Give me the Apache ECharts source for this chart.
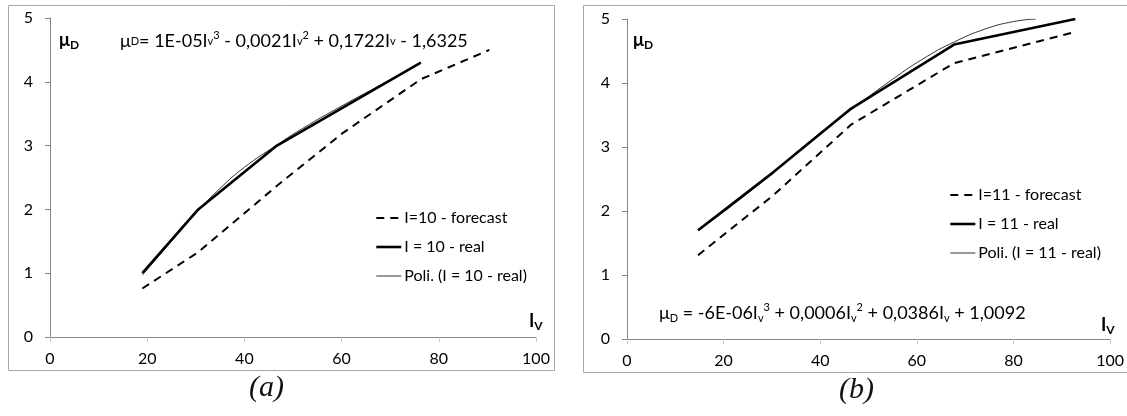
<!DOCTYPE html>
<html lang="en">
<head>
    <meta charset="UTF-8">
    <title>μD vs Iv</title>
    <script src="https://cdn.jsdelivr.net/npm/echarts@6/dist/echarts.min.js"></script>
    <style>
        html, body { margin: 0; padding: 0; background: #fff; }
        #main { width: 1127px; height: 416px; }
    </style>
</head>
<body>
<div id="main"></div>
<script>
  // ticks
  var xTicks = [0, 20, 40, 60, 80, 100];
  var yTicks = [0, 1, 2, 3, 4, 5];

  // (a) I = 10
  var namesA = ['I=10 - forecast', 'I = 10 - real', 'Poli. (I = 10 - real)'];
  var forecastA = [[19, 0.76], [30.5, 1.33], [46.7, 2.37], [60.3, 3.2], [76.3, 4.04], [90.4, 4.5]];
  var realA = [[19, 1.0], [30.5, 2.0], [46.7, 3.0], [76.3, 4.3]];
  var polyA = [[19, 0.97], [25, 1.5], [30.5, 1.98], [35, 2.33], [40, 2.66], [46.7, 3.01], [52, 3.27], [60, 3.62], [68, 3.95], [76.3, 4.3]];

  // (b) I = 11
  var namesB = ['I=11 - forecast', 'I = 11 - real', 'Poli. (I = 11 - real)'];
  var forecastB = [[14.7, 1.31], [30.2, 2.24], [46.4, 3.35], [67.7, 4.31], [92.3, 4.79]];
  var realB = [[14.7, 1.7], [30.2, 2.6], [46.4, 3.6], [67.7, 4.6], [92.8, 5.0]];
  var polyB = [[14.7, 1.69], [22, 2.1], [30.2, 2.6], [38, 3.1], [46.4, 3.58], [55, 4.06], [62, 4.41], [67.7, 4.64], [74, 4.84], [80, 4.96], [84.6, 5.0]];

  var FONT = 'Lato';
  var AXIS_COLOR = '#868686';
  // line looks: forecast, real, polynomial trend
  var STYLES = [
    {color: '#000', width: 2, type: [8, 6]},
    {color: '#000', width: 2.6, type: 'solid'},
    {color: '#000', width: 0.8, type: 'solid'}
  ];

  function xAx(idx) {
    return {
      gridIndex: idx, type: 'value', min: xTicks[0], max: xTicks[xTicks.length - 1], interval: 20,
      axisLine: {lineStyle: {color: AXIS_COLOR, width: 1}},
      axisTick: {show: true, inside: false, length: 5, lineStyle: {color: '#c8c8c8'}},
      axisLabel: {margin: 14, fontFamily: FONT, fontSize: 16, color: '#000'},
      splitLine: {show: false}
    };
  }
  function yAx(idx) {
    return {
      gridIndex: idx, type: 'value', min: yTicks[0], max: yTicks[yTicks.length - 1], interval: 1,
      axisLine: {show: true, lineStyle: {color: AXIS_COLOR, width: 1}},
      axisTick: {show: true, inside: false, length: 5, lineStyle: {color: AXIS_COLOR}},
      axisLabel: {margin: 17, fontFamily: FONT, fontSize: 16, color: '#000'},
      splitLine: {show: false}
    };
  }
  // itemStyle opacity 0 hides the circle that line legends add
  function lines(names, fc, real, poly, idx) {
    return [fc, real, poly].map(function(d, i) {
      return {
        name: names[i], type: 'line', xAxisIndex: idx, yAxisIndex: idx, data: d, symbol: 'none', color: '#000',
        smooth: i === 2, itemStyle: {opacity: 0}, lineStyle: STYLES[i], z: 3 + i
      };
    });
  }
  function legendAt(names, left, top) {
    return {
      data: names.map(function(n, i) { return {name: n, lineStyle: STYLES[i]}; }),
      orient: 'vertical', left: left, top: top, itemWidth: 25, itemHeight: 12, itemGap: 13,
      selectedMode: false,
      itemStyle: {opacity: 0},
      textStyle: {fontFamily: FONT, fontSize: 16, color: '#000', padding: [0, 0, 0, -2]}
    };
  }

  var eqRich = {
    n: {fontFamily: FONT, fontSize: 18, color: '#000', lineHeight: 22, verticalAlign: 'middle'},
    s: {fontFamily: FONT, fontSize: 11, color: '#000', lineHeight: 22, verticalAlign: 'middle'},
    sub: {fontFamily: FONT, fontSize: 11, color: '#000', lineHeight: 22, verticalAlign: 'bottom'},
    sup: {fontFamily: FONT, fontSize: 11, color: '#000', lineHeight: 22, verticalAlign: 'top'},
    b: {fontFamily: FONT, fontSize: 18, fontWeight: 'bold', color: '#000', lineHeight: 22, verticalAlign: 'middle'},
    bs: {fontFamily: FONT, fontSize: 12, fontWeight: 'bold', color: '#000', lineHeight: 22, verticalAlign: 'bottom'}
  };

  var chart = echarts.init(document.getElementById('main'), null, {renderer: 'canvas'});
  chart.setOption({
    animation: false,
    backgroundColor: '#fff',
    grid: [
      {left: 50, top: 18, width: 486, height: 319},
      {left: 627, top: 19, width: 486, height: 320}
    ],
    xAxis: [xAx(0), xAx(1)],
    yAxis: [yAx(0), yAx(1)],
    legend: [legendAt(namesA, 370, 205), legendAt(namesB, 944, 182)],
    series: lines(namesA, forecastA, realA, polyA, 0).concat(lines(namesB, forecastB, realB, polyB, 1)),
    graphic: [
      {type: 'rect', shape: {x: 8.5, y: 5.5, width: 546, height: 365}, style: {fill: 'none', stroke: '#a6a6a6', lineWidth: 1}, silent: true},
      {type: 'rect', shape: {x: 583.5, y: 5.5, width: 560, height: 367}, style: {fill: 'none', stroke: '#a6a6a6', lineWidth: 1}, silent: true},
      // axis titles
      {type: 'text', left: 59, top: 31, style: {text: '{b|μ}{bs|D}', rich: eqRich}},
      {type: 'text', left: 633, top: 31, style: {text: '{b|μ}{bs|D}', rich: eqRich}},
      {type: 'text', left: 529, top: 312, style: {text: '{b|I}{bs|V}', rich: eqRich}},
      {type: 'text', left: 1101, top: 316, style: {text: '{b|I}{bs|V}', rich: eqRich}},
      // trend equations
      {type: 'text', left: 120, top: 30, style: {
        text: '{n|μ}{s|D}{n|= 1E-05I}{s|v}{sup|3}{n| - 0,0021I}{s|v}{sup|2}{n| + 0,1722I}{s|v}{n| - 1,6325}', rich: eqRich}},
      {type: 'text', left: 659, top: 302, style: {
        text: '{n|μ}{sub|D}{n| = -6E-06I}{sub|v}{sup|3}{n| + 0,0006I}{sub|v}{sup|2}{n| + 0,0386I}{sub|v}{n| + 1,0092}', rich: eqRich}},
      // panel captions
      {type: 'text', left: 249, top: 373, style: {text: '(a)', fontFamily: 'Liberation Serif', fontStyle: 'italic', fontSize: 30, fill: '#111'}},
      {type: 'text', left: 839, top: 375, style: {text: '(b)', fontFamily: 'Liberation Serif', fontStyle: 'italic', fontSize: 30, fill: '#111'}}
    ]
  });
</script>
</body>
</html>
